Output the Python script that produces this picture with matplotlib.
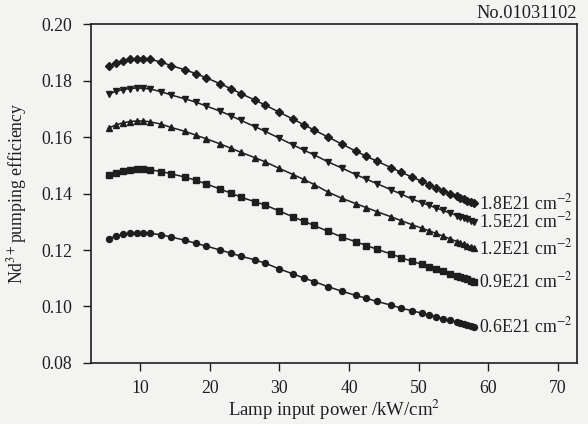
import matplotlib
matplotlib.use("Agg")
import matplotlib.pyplot as plt

# lamp input power (kW/cm^2) where markers sit
power = [5.5, 6.5, 7.5, 8.5, 9.5, 10.5, 11.5, 13, 14.5, 16.5, 18, 19.5, 21.5, 23,
         24.5, 26.5, 28, 30, 32, 33.5, 35, 37, 39, 41, 42.5, 44, 46, 47.5, 49,
         50.5, 51.5, 52.5, 53.5, 54.5, 55.5, 56, 56.5, 57, 57.5, 58]

eff_18 = [0.1852, 0.1862, 0.1870, 0.1875, 0.1878, 0.1878, 0.1875, 0.1866, 0.1853,
          0.1838, 0.1825, 0.1810, 0.1789, 0.1772, 0.1754, 0.1731, 0.1713, 0.1688,
          0.1663, 0.1644, 0.1625, 0.1600, 0.1575, 0.1550, 0.1532, 0.1515, 0.1492,
          0.1475, 0.1459, 0.1443, 0.1432, 0.1421, 0.1410, 0.1400, 0.1390, 0.1384,
          0.1379, 0.1374, 0.1369, 0.1365]
eff_15 = [0.1752, 0.1762, 0.1768, 0.1772, 0.1774, 0.1773, 0.1770, 0.1761, 0.1749,
          0.1735, 0.1724, 0.1710, 0.1692, 0.1676, 0.1659, 0.1637, 0.1620, 0.1596,
          0.1572, 0.1554, 0.1537, 0.1512, 0.1490, 0.1467, 0.1451, 0.1435, 0.1414,
          0.1398, 0.1381, 0.1367, 0.1358, 0.1349, 0.1340, 0.1331, 0.1322, 0.1318,
          0.1313, 0.1309, 0.1304, 0.1300]
eff_12 = [0.1632, 0.1643, 0.1650, 0.1655, 0.1657, 0.1657, 0.1654, 0.1646, 0.1634,
          0.1620, 0.1607, 0.1594, 0.1576, 0.1561, 0.1546, 0.1527, 0.1512, 0.1489,
          0.1467, 0.1450, 0.1432, 0.1405, 0.1383, 0.1364, 0.1350, 0.1336, 0.1318,
          0.1304, 0.1290, 0.1277, 0.1268, 0.1259, 0.1249, 0.1240, 0.1230, 0.1225,
          0.1220, 0.1216, 0.1211, 0.1206]
eff_09 = [0.1465, 0.1474, 0.1480, 0.1484, 0.1486, 0.1486, 0.1484, 0.1478, 0.1470,
          0.1458, 0.1447, 0.1434, 0.1416, 0.1402, 0.1387, 0.1371, 0.1359, 0.1338,
          0.1317, 0.1302, 0.1287, 0.1266, 0.1246, 0.1229, 0.1216, 0.1203, 0.1186,
          0.1173, 0.1160, 0.1149, 0.1141, 0.1133, 0.1124, 0.1116, 0.1108, 0.1104,
          0.1100, 0.1096, 0.1092, 0.1088]
eff_06 = [0.1240, 0.1249, 0.1255, 0.1259, 0.1261, 0.1261, 0.1259, 0.1254, 0.1246,
          0.1234, 0.1224, 0.1214, 0.1200, 0.1189, 0.1178, 0.1165, 0.1153, 0.1133,
          0.1115, 0.1101, 0.1088, 0.1070, 0.1054, 0.1039, 0.1029, 0.1018, 0.1005,
          0.0994, 0.0985, 0.0976, 0.0969, 0.0963, 0.0957, 0.0951, 0.0944, 0.0941,
          0.0937, 0.0934, 0.0931, 0.0928]

series = [eff_18, eff_15, eff_12, eff_09, eff_06]
labels = ["1.8E21 cm$^{-2}$", "1.5E21 cm$^{-2}$", "1.2E21 cm$^{-2}$",
          "0.9E21 cm$^{-2}$", "0.6E21 cm$^{-2}$"]
markers = ["D", "v", "^", "s", "o"]
msizes = [3.8, 4.5, 4.5, 3.8, 4.3]

plt.rcParams["font.family"] = ["Liberation Serif", "DejaVu Serif"]
plt.rcParams["mathtext.fontset"] = "stix"

ink = "#1e1e1e"
paper = "#f3f3f1"

fig = plt.figure(figsize=(5.88, 4.24), dpi=100, facecolor=paper)
ax = fig.add_axes([0.154, 0.144, 0.827, 0.799], facecolor=paper)

for y, lab, mk, ms in zip(series, labels, markers, msizes):
    ax.plot(power, y, color=ink, linewidth=1.1, marker=mk, markersize=ms,
            markerfacecolor=ink, markeredgecolor=ink)
    ax.text(power[-1] + 0.6, y[-1], lab, fontsize=12.8, color=ink,
            ha="left", va="center")

ax.set_xlim(2.9, 72.7)
ax.set_ylim(0.08, 0.20)
ax.set_xticks([10, 20, 30, 40, 50, 60, 70])
ax.set_yticks([0.08, 0.10, 0.12, 0.14, 0.16, 0.18, 0.20])
ax.set_yticklabels(["0.08", "0.10", "0.12", "0.14", "0.16", "0.18", "0.20"])
ax.tick_params(direction="out", length=6, width=1.0, labelsize=12.8,
               colors=ink)
ax.tick_params(axis="y", pad=7)
ax.tick_params(axis="x", pad=6)
for sp in ax.spines.values():
    sp.set_color(ink)
    sp.set_linewidth(1.2)

ax.set_xlabel("Lamp input power /kW/cm$^2$", fontsize=13.5, color=ink, labelpad=1)
ax.set_ylabel("Nd$^{3+}$pumping efficiency", fontsize=12.8, color=ink)
ax.yaxis.set_label_coords(-0.127, 0.5)

fig.text(0.981, 0.958, "No.01031102", fontsize=13.2, color=ink,
         ha="right", va="baseline")

fig.savefig("out.png", dpi=100, facecolor=paper)
